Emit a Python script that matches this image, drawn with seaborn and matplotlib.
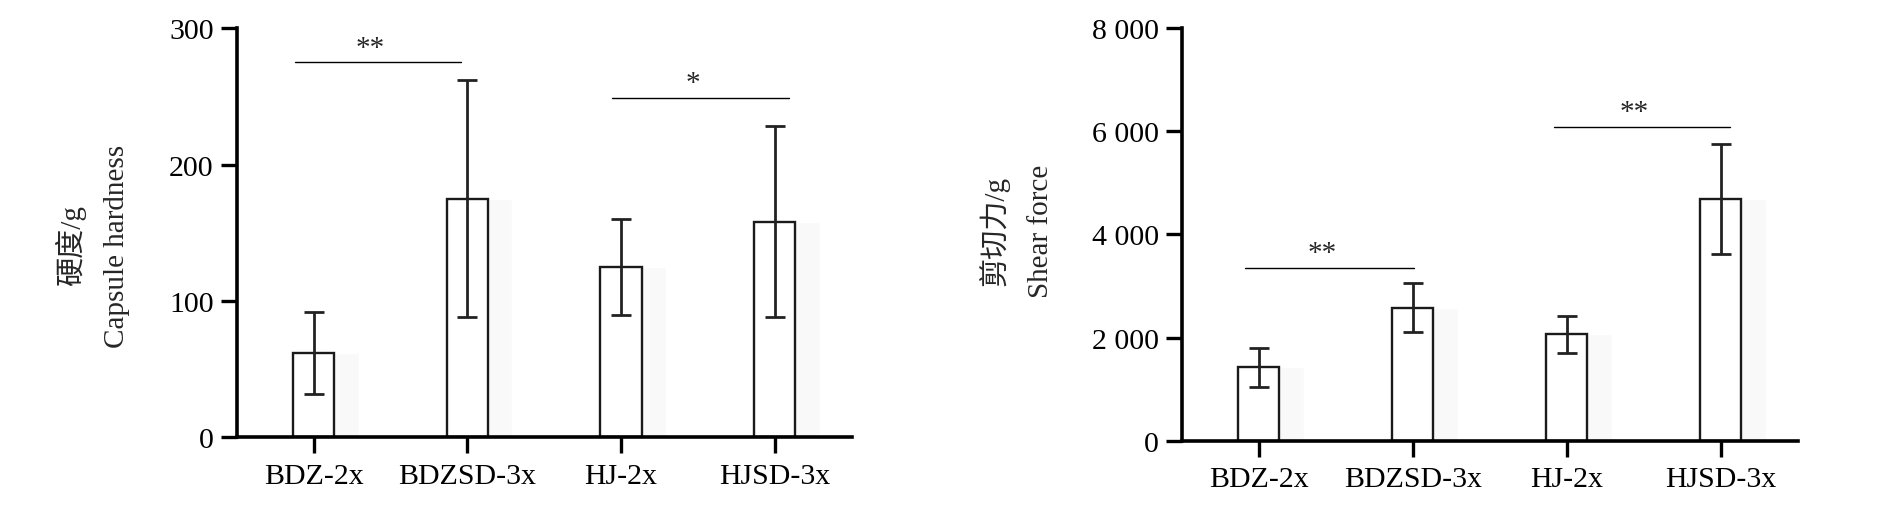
import matplotlib
matplotlib.use('Agg')
import matplotlib.pyplot as plt
import seaborn as sns
import pandas as pd

groups = ['BDZ-2x', 'BDZSD-3x', 'HJ-2x', 'HJSD-3x']
hardness_mean = [62, 175, 125, 158]
hardness_sd = [30, 87, 35, 70]
shear_mean = [1420, 2575, 2060, 4690]
shear_sd = [375, 475, 360, 1070]

hardness_ticks = [0, 100, 200, 300]
hardness_ticklabels = ['0', '100', '200', '300']
shear_ticks = [0, 2000, 4000, 6000, 8000]
shear_ticklabels = ['0', '2 000', '4 000', '6 000', '8 000']

# significance brackets: (x start, x end, y, label)
hardness_sig = [(-0.12, 0.96, 275, '**'), (1.94, 3.09, 249, '*')]
shear_sig = [(-0.09, 1.01, 3350, '**'), (1.92, 3.06, 6090, '**')]

sns.set_style('ticks')
plt.rcParams['font.family'] = ['Liberation Serif', 'Noto Sans CJK SC']

fig = plt.figure(figsize=(18.9, 5.1), dpi=100)
ax1 = fig.add_axes([0.1252, 0.1406, 0.3254, 0.802])
ax2 = fig.add_axes([0.6254, 0.1340, 0.3257, 0.8086])

bw = 0.267


def draw(ax, means, sds, ticks, ticklabels, ymax, sig, ylabel, lab_xy):
    df = pd.DataFrame({'group': groups, 'value': means})
    pos = list(range(len(groups)))
    # faint dotted shadow right of each bar
    ax.bar([p + bw / 2 for p in pos], means, width=0.16, align='edge',
           color='#f9f9f9', zorder=0)
    sns.barplot(data=df, x='group', y='value', ax=ax, width=bw,
                color='white', edgecolor='#1a1a1a', linewidth=1.7,
                errorbar=None, zorder=2)
    ax.errorbar(pos, means, yerr=sds, fmt='none', ecolor='#222222',
                elinewidth=2.0, capsize=7.5, capthick=2.0, zorder=3)
    ax.set_xlim(-0.5, 3.5)
    ax.set_ylim(0, ymax)
    ax.set_yticks(ticks)
    ax.set_yticklabels(ticklabels)
    ax.set_xlabel('')
    ax.set_ylabel(ylabel, fontsize=21, linespacing=1.9)
    ax.yaxis.set_label_coords(*lab_xy)
    for s in ['top', 'right']:
        ax.spines[s].set_visible(False)
    for s in ['left', 'bottom']:
        ax.spines[s].set_linewidth(2.6)
        ax.spines[s].set_color('black')
    ax.tick_params(axis='both', length=11.5, width=2.4, color='black',
                   labelsize=21.5, labelcolor='black')
    ax.tick_params(axis='x', pad=7)
    ax.tick_params(axis='y', pad=5)
    for x0, x1, y, lab in sig:
        ax.plot([x0, x1], [y, y], color='black', lw=1.0, clip_on=False)
        ax.text((x0 + x1) / 2 - 0.05, y + ymax * 0.004, lab, ha='center',
                va='bottom', fontsize=21)


draw(ax1, hardness_mean, hardness_sd, hardness_ticks, hardness_ticklabels, 300,
     hardness_sig, '硬度/g\nCapsule hardness', (-0.173, 0.47))
draw(ax2, shear_mean, shear_sd, shear_ticks, shear_ticklabels, 8000,
     shear_sig, '剪切力/g\nShear force', (-0.208, 0.51))

fig.savefig('out.png', dpi=100)
